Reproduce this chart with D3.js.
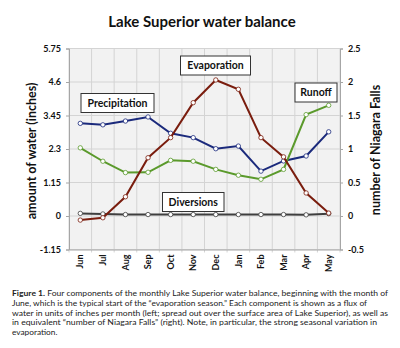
<!DOCTYPE html>
<html><head><meta charset="utf-8">
<script src="https://cdn.jsdelivr.net/npm/d3@7"></script>
<style>body{margin:0;background:#fff}svg{display:block}</style>
</head><body>
<script>
const months = ["Jun","Jul","Aug","Sep","Oct","Nov","Dec","Jan","Feb","Mar","Apr","May"];
const precipitation = [3.18,3.13,3.26,3.40,2.84,2.69,2.31,2.40,1.54,1.89,2.06,2.89];
const evaporation = [-0.14,-0.06,0.66,2.00,2.69,3.89,4.67,4.35,2.69,2.03,0.79,0.10];
const runoff = [2.34,1.88,1.49,1.50,1.91,1.88,1.60,1.40,1.26,1.60,3.48,3.80];
const diversions = [0.09,0.07,0.05,0.05,0.05,0.05,0.05,0.05,0.05,0.05,0.04,0.08];
const leftTicks = [-1.15,0,1.15,2.3,3.45,4.6,5.75];
const rightTicks = [-0.5,0,0.5,1,1.5,2,2.5];
const title = "Lake Superior water balance";
const captionLines = [
 ["Figure 1.", " Four components of the monthly Lake Superior water balance, beginning with the month of"],
 ["", "June, which is the typical start of the \u201cevaporation season.\u201d Each component is shown as a flux of"],
 ["", "water in units of inches per month (left; spread out over the surface area of Lake Superior), as well as"],
 ["", "in equivalent \u201cnumber of Niagara Falls\u201d (right). Note, in particular, the strong seasonal variation in"],
 ["", "evaporation."]
];
const series = [
 {name:"Precipitation", values:precipitation, color:"#1b2a7c"},
 {name:"Runoff", values:runoff, color:"#5b9a2c"},
 {name:"Diversions", values:diversions, color:"#3f3f3f"},
 {name:"Evaporation", values:evaporation, color:"#7a1d0e"}
];

const W=400,H=348;
const font = "Lato, 'Open Sans', sans-serif";
const svg = d3.select("body").append("svg").attr("width",W).attr("height",H).style("font-family",font);
const L=69,R=340,T=48.5,B=249.5;
const x = d3.scaleBand().domain(months).range([L,R]);
const cx = m => x(m)+x.bandwidth()/2;
const yL = d3.scaleLinear().domain([-1.15,5.75]).range([B,T]);
const yR = d3.scaleLinear().domain([-0.5,2.5]).range([B,T]);

svg.append("text").attr("x",202).attr("y",27).attr("text-anchor","middle")
 .attr("font-weight","bold").attr("font-size",15).attr("fill","#111").text(title);

// plot background
svg.append("rect").attr("x",L).attr("y",T).attr("width",R-L).attr("height",B-T).attr("fill","#f2f2f2");
// grid
svg.append("g").selectAll("line").data(leftTicks).join("line")
 .attr("x1",L).attr("x2",R).attr("y1",d=>yL(d)).attr("y2",d=>yL(d)).attr("stroke","#d4d4d4").attr("stroke-width",1);
const bounds = months.map(m=>x(m)).concat([R]);
svg.append("g").selectAll("line").data(bounds).join("line")
 .attr("x1",d=>d).attr("x2",d=>d).attr("y1",T).attr("y2",B+3).attr("stroke","#d4d4d4").attr("stroke-width",1);
// axes
const axisL = svg.append("g").attr("transform",`translate(${L},0)`)
 .call(d3.axisLeft(yL).tickValues(leftTicks).tickSize(3).tickFormat(d=>String(d)));
const axisR = svg.append("g").attr("transform",`translate(${R},0)`)
 .call(d3.axisRight(yR).tickValues(rightTicks).tickSize(3).tickFormat(d=>String(d)));
const axisB = svg.append("g").attr("transform",`translate(0,${B})`)
 .call(d3.axisBottom(x).tickSize(0));
[axisL,axisR,axisB].forEach(a=>{
  a.select(".domain").attr("stroke","#a6a6a6");
  a.selectAll(".tick line").attr("stroke","#a6a6a6");
  a.selectAll("text").attr("font-family",font).attr("font-weight","bold").attr("font-size",9).attr("fill","#111");
});
axisL.selectAll("text").attr("x",-8);
axisR.selectAll("text").attr("x",8);
axisB.selectAll(".tick text").attr("transform","rotate(-90)").attr("text-anchor","end")
 .attr("x",-5).attr("y",0).attr("dy","0.35em");

// axis titles
svg.append("text").attr("transform","translate(32,151) rotate(-90)").attr("dy","0.35em").attr("text-anchor","middle")
 .attr("font-weight","bold").attr("font-size",12.5).attr("fill","#111").text("amount of water (inches)");
svg.append("text").attr("transform","translate(376,150) rotate(-90)").attr("dy","0.35em").attr("text-anchor","middle")
 .attr("font-weight","bold").attr("font-size",12.5).attr("fill","#111").text("number of Niagara Falls");

// series
const line = d3.line().x((d,i)=>cx(months[i])).y(d=>yL(d));
series.forEach(s=>{
  svg.append("path").datum(s.values).attr("d",line).attr("fill","none").attr("stroke",s.color).attr("stroke-width",2);
  svg.append("g").selectAll("circle").data(s.values).join("circle")
   .attr("cx",(d,i)=>cx(months[i])).attr("cy",d=>yL(d)).attr("r",2.2)
   .attr("fill","#fff").attr("stroke",s.color).attr("stroke-width",0.8);
});

// label boxes
const labels = [
 {text:"Precipitation", x:81, y:93.5, w:73, h:19},
 {text:"Evaporation", x:180.5, y:56, w:70, h:19},
 {text:"Runoff", x:295, y:83, w:42, h:19},
 {text:"Diversions", x:162.5, y:192.5, w:61.5, h:19}
];
labels.forEach(l=>{
  svg.append("rect").attr("x",l.x).attr("y",l.y).attr("width",l.w).attr("height",l.h)
   .attr("fill","#fff").attr("stroke","#333").attr("stroke-width",1);
  svg.append("text").attr("x",l.x+l.w/2).attr("y",l.y+l.h/2).attr("dy","0.35em").attr("text-anchor","middle")
   .attr("font-weight","bold").attr("font-size",10.5).attr("fill","#111").text(l.text);
});

// caption
const cap = svg.append("g").attr("font-size",8.3).attr("fill","#222");
const capW = [376,355,376,365,null];
captionLines.forEach((ln,i)=>{
  const t = cap.append("text").attr("x",12).attr("y",296+i*9.8);
  if(capW[i]) t.attr("textLength",capW[i]).attr("lengthAdjust","spacingAndGlyphs");
  if(ln[0]) t.append("tspan").attr("font-weight","bold").text(ln[0]);
  t.append("tspan").text(ln[1]);
});
</script>
</body></html>
